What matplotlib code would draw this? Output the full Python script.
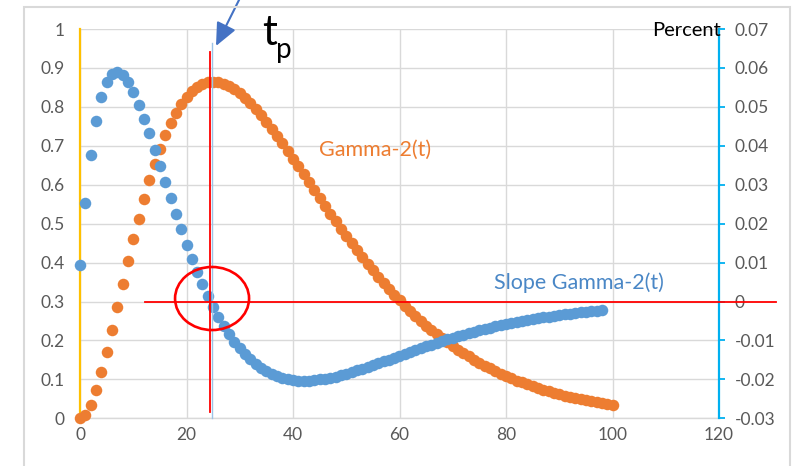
import matplotlib
matplotlib.use("Agg")
import matplotlib.pyplot as plt
from matplotlib.patches import Ellipse, Rectangle

# ---- data -------------------------------------------------------------
t_gamma = list(range(0, 101))
gamma2 = [
    0.000, 0.009, 0.035, 0.072, 0.119, 0.171, 0.228, 0.286, 0.345, 0.403,
    0.460, 0.513, 0.564, 0.611, 0.654, 0.693, 0.728, 0.759, 0.785, 0.808,
    0.826, 0.841, 0.852, 0.859, 0.864, 0.865, 0.864, 0.860, 0.854, 0.845,
    0.835, 0.823, 0.810, 0.795, 0.779, 0.762, 0.744, 0.726, 0.707, 0.687,
    0.667, 0.647, 0.627, 0.607, 0.586, 0.566, 0.546, 0.526, 0.507, 0.487,
    0.468, 0.450, 0.432, 0.414, 0.397, 0.380, 0.364, 0.348, 0.332, 0.317,
    0.303, 0.289, 0.276, 0.263, 0.250, 0.238, 0.227, 0.216, 0.205, 0.195,
    0.185, 0.176, 0.167, 0.159, 0.150, 0.143, 0.135, 0.128, 0.121, 0.115,
    0.109, 0.103, 0.097, 0.092, 0.087, 0.082, 0.078, 0.073, 0.069, 0.066,
    0.062, 0.058, 0.055, 0.052, 0.049, 0.046, 0.044, 0.041, 0.039, 0.036,
    0.034,
]

t_slope = list(range(0, 99))
slope_gamma2 = [
    0.0094, 0.0254, 0.0376, 0.0464, 0.0526, 0.0565, 0.0585, 0.0589, 0.0581, 0.0563,
    0.0538, 0.0506, 0.0470, 0.0432, 0.0390, 0.0349, 0.0307, 0.0265, 0.0224, 0.0185,
    0.0146, 0.0110, 0.0077, 0.0044, 0.0014, -0.0014, -0.0039, -0.0062, -0.0084, -0.0103,
    -0.0120, -0.0135, -0.0148, -0.0160, -0.0170, -0.0178, -0.0185, -0.0191, -0.0196, -0.0199,
    -0.0201, -0.0203, -0.0203, -0.0203, -0.0202, -0.0200, -0.0198, -0.0196, -0.0193, -0.0189,
    -0.0185, -0.0181, -0.0177, -0.0173, -0.0168, -0.0163, -0.0159, -0.0154, -0.0149, -0.0144,
    -0.0139, -0.0134, -0.0129, -0.0124, -0.0120, -0.0115, -0.0111, -0.0106, -0.0102, -0.0097,
    -0.0093, -0.0089, -0.0085, -0.0082, -0.0078, -0.0074, -0.0071, -0.0068, -0.0064, -0.0061,
    -0.0058, -0.0056, -0.0053, -0.0050, -0.0048, -0.0045, -0.0043, -0.0041, -0.0039, -0.0037,
    -0.0035, -0.0033, -0.0031, -0.0030, -0.0028, -0.0026, -0.0025, -0.0024, -0.0022,
]

x_ticks = [0, 20, 40, 60, 80, 100, 120]
left_ticks = [0, 0.1, 0.2, 0.3, 0.4, 0.5, 0.6, 0.7, 0.8, 0.9, 1.0]
left_labels = ["0", "0.1", "0.2", "0.3", "0.4", "0.5", "0.6", "0.7", "0.8", "0.9", "1"]
right_ticks = [-0.03, -0.02, -0.01, 0, 0.01, 0.02, 0.03, 0.04, 0.05, 0.06, 0.07]
right_labels = ["-0.03", "-0.02", "-0.01", "0", "0.01", "0.02", "0.03",
                "0.04", "0.05", "0.06", "0.07"]

tp = 24.5          # time of peak, marked by the red cross-hair
tp_guide = 24.8    # thin guide line the arrow points to

# ---- styling ----------------------------------------------------------
plt.rcParams["font.family"] = ["Lato", "DejaVu Sans"]
ORANGE = "#ED7D31"
BLUE = "#5B9BD5"
GRID = "#D9D9D9"
TICK = "#595959"
RED = "#FF0000"

W, H = 795, 466
fig = plt.figure(figsize=(W / 100, H / 100), dpi=100)


def px(x, y):
    """pixel position (from top-left) -> figure fraction"""
    return x / W, 1 - y / H


# chart frame
fig.add_artist(Rectangle((24 / W, -0.05), (790 - 24) / W, 1 - 7 / H + 0.05,
                         transform=fig.transFigure, fill=False,
                         ec=GRID, lw=1.5))

ax = fig.add_axes([80 / W, 1 - 418.3 / H, 639 / W, 389.3 / H])
ax2 = ax.twinx()

ax.set_xlim(0, 120)
ax.set_ylim(0, 1)
ax2.set_ylim(-0.03, 0.07)

ax.set_xticks(x_ticks)
ax.set_xticklabels([str(v) for v in x_ticks])
ax.set_yticks(left_ticks)
ax.set_yticklabels(left_labels)
ax2.set_yticks(right_ticks)
ax2.set_yticklabels(right_labels)

ax.grid(True, color=GRID, lw=1.0)
ax.set_axisbelow(True)

for s in ("top", "right"):
    ax.spines[s].set_visible(False)
ax.spines["left"].set_color("#FFC000")
ax.spines["left"].set_linewidth(1.6)
ax.spines["left"].set_zorder(2.5)
ax.spines["bottom"].set_color(GRID)
ax.spines["bottom"].set_linewidth(1.0)
for s in ("top", "left", "bottom"):
    ax2.spines[s].set_visible(False)
ax2.spines["right"].set_color("#00B0F0")
ax2.spines["right"].set_linewidth(1.6)

ax.tick_params(axis="both", length=0, labelcolor=TICK, labelsize=12.5)
ax.tick_params(axis="y", pad=11)
ax.tick_params(axis="x", pad=6)
ax2.tick_params(axis="y", direction="out", length=4.5, width=1.3,
                color="#00B0F0", labelcolor=TICK, labelsize=12.5, pad=7)

# series
ax.plot(t_gamma, gamma2, "o", color=ORANGE, ms=8.3, mew=0, zorder=3,
        clip_on=False)
ax2.plot(t_slope, slope_gamma2, "o", color=BLUE, ms=8.3, mew=0, zorder=3,
         clip_on=False)

# peak markers (drawn above both series)
ax2.plot([tp_guide, tp_guide], [0, 0.964], color="#9DC3E6", lw=1.0,
         transform=ax.transData, zorder=4, clip_on=False)
ax2.plot([tp, tp], [0.016, 0.941], color=RED, lw=1.3,
         transform=ax.transData, zorder=5, clip_on=False)
ax2.plot([12.2, 130.7], [0, 0], color=RED, lw=1.3, zorder=5, clip_on=False)
ax2.add_patch(Ellipse((tp_guide, 0.3077), 13.9, 0.162, fill=False,
                      ec=RED, lw=1.9, transform=ax.transData, zorder=5))

ax2.set_ylim(-0.03, 0.07)
ax.set_xlim(0, 120)

# labels
fig.text(*px(375, 150), "Gamma-2(t)", color=ORANGE, fontsize=15.5,
         ha="center", va="center")
fig.text(*px(579, 283), "Slope Gamma-2(t)", color="#4A87C6", fontsize=15.5,
         ha="center", va="center")
fig.text(*px(687, 31), "Percent", color="black", fontsize=14.5,
         ha="center", va="center")
fig.text(*px(270, 33), "t", color="black", fontsize=30,
         ha="center", va="center")
fig.text(*px(284, 50), "p", color="black", fontsize=20,
         ha="center", va="center")

# arrow pointing at the guide line
ax.annotate("", xy=(216, H - 46), xytext=(240, H + 2),
            xycoords="figure pixels", textcoords="figure pixels",
            arrowprops=dict(arrowstyle="-|>,head_length=1.0,head_width=0.45",
                            color="#4472C4", lw=1.5,
                            mutation_scale=14, shrinkA=0, shrinkB=0),
            annotation_clip=False)

fig.savefig("out.png", dpi=100)
